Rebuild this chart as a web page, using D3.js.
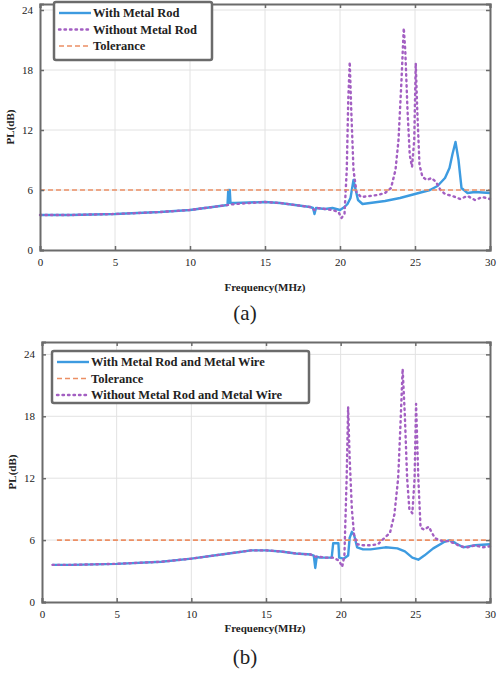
<!DOCTYPE html>
<html>
<head>
<meta charset="utf-8">
<script src="https://cdn.jsdelivr.net/npm/d3@7"></script>
<style>
  body { margin: 0; background: #fff; }
  svg text { font-family: "Liberation Serif", "DejaVu Serif", serif !important; fill: #222; }
</style>
</head>
<body>
<div class="chart"></div>
<script>
// Two panels of path loss vs frequency, (a) and (b)

var xTicks = [0, 5, 10, 15, 20, 25, 30];
var yTicks = [0, 6, 12, 18, 24];

// panel (a)
var freqRodA = [0, 2, 5, 8, 10, 12, 12.5, 12.55, 12.6, 12.65, 12.7, 13, 15, 16, 17, 18, 18.2, 18.3, 18.4, 19, 19.5, 20, 20.3, 20.5, 20.7, 20.9, 21.0, 21.2, 21.5, 22, 23, 24, 25, 26, 26.5, 27, 27.3, 27.5, 27.7, 27.9, 28.1, 28.5, 29, 30];
var withRodA = [3.5, 3.5, 3.6, 3.8, 4.0, 4.4, 4.5, 6.0, 4.7, 6.0, 4.7, 4.7, 4.8, 4.7, 4.5, 4.3, 4.2, 3.6, 4.2, 4.1, 4.2, 4.0, 4.3, 4.6, 5.2, 7.0, 6.3, 5.0, 4.6, 4.7, 4.9, 5.2, 5.6, 6.0, 6.4, 7.2, 8.2, 9.6, 10.8, 9.0, 6.2, 5.7, 5.8, 5.7];

var freqNoRodA = [0, 2, 5, 8, 10, 12, 13, 15, 16, 17, 18, 18.3, 18.5, 19, 19.5, 19.9, 20.1, 20.3, 20.45, 20.55, 20.65, 20.75, 20.9, 21.1, 21.4, 22, 22.5, 23, 23.4, 23.7, 23.9, 24.1, 24.25, 24.35, 24.5, 24.65, 24.8, 24.95, 25.05, 25.15, 25.3, 25.5, 25.8, 26.1, 26.4, 26.7, 27, 27.5, 28, 28.5, 29, 29.5, 30];
var withoutRodA = [3.5, 3.5, 3.6, 3.8, 4.0, 4.4, 4.6, 4.8, 4.7, 4.5, 4.3, 4.0, 4.2, 4.1, 4.0, 3.8, 3.2, 3.6, 8, 15, 18.8, 14, 8, 5.8, 5.3, 5.4, 5.5, 5.7, 6.2, 8.0, 11, 17, 22.2, 20, 14, 9.5, 8.3, 11, 18.7, 14, 8.5, 7.3, 7.0, 7.2, 6.8, 6.0, 5.6, 5.4, 5.1, 5.4, 5.0, 5.3, 5.1];

var tolFreqA = [0, 30];
var tolA = [6, 6];

// panel (b)
var freqRodB = [0.7, 2, 5, 8, 10, 12, 13, 14, 15, 16, 17, 18, 18.2, 18.3, 18.4, 18.6, 19, 19.4, 19.5, 19.85, 19.9, 20.2, 20.5, 20.6, 20.75, 20.9, 21.1, 21.5, 22, 23, 23.8, 24.3, 24.8, 25.2, 25.6, 26.2, 26.9, 27.3, 27.7, 28.2, 29, 30];
var withRodB = [3.6, 3.6, 3.7, 3.9, 4.2, 4.6, 4.8, 5.0, 5.0, 4.9, 4.7, 4.6, 4.5, 3.3, 4.4, 4.3, 4.3, 4.3, 5.7, 5.7, 4.3, 4.2, 4.5, 6.2, 6.8, 6.5, 5.3, 5.1, 5.1, 5.3, 5.2, 4.9, 4.3, 4.1, 4.5, 5.2, 5.8, 6.0, 5.7, 5.3, 5.5, 5.6];

var freqNoRodB = [0.7, 2, 5, 8, 10, 12, 13, 14, 15, 16, 17, 18, 18.3, 18.5, 19, 19.5, 19.9, 20.1, 20.25, 20.4, 20.5, 20.6, 20.75, 20.9, 21.1, 21.5, 22, 22.5, 23, 23.3, 23.6, 23.85, 24.0, 24.15, 24.3, 24.45, 24.6, 24.8, 24.95, 25.05, 25.2, 25.35, 25.6, 25.9, 26.3, 26.8, 27.2, 27.6, 28, 28.5, 29, 29.5, 30];
var withoutRodB = [3.6, 3.6, 3.7, 3.9, 4.2, 4.6, 4.8, 5.0, 5.0, 4.9, 4.7, 4.6, 4.4, 4.4, 4.3, 4.3, 4.0, 3.4, 4.5, 12, 18.9, 14, 9, 6.5, 5.6, 5.5, 5.5, 5.6, 6.3, 6.7, 8.5, 12, 17, 22.6, 18, 12, 9, 8.6, 12, 19.2, 12, 7.2, 7.0, 7.3, 6.2, 5.9, 5.9, 5.7, 5.4, 5.3, 5.5, 5.3, 5.4];

var tolFreqB = [1, 30];
var tolB = [6, 6];

var blue = "#3d9be0";
var purple = "#a35fc2";
var orange = "#ec8f64";

var styles = {
    solid: { color: blue, width: 2.4, dash: null, cap: "butt" },
    dotted: { color: purple, width: 2.4, dash: "1.5,4", cap: "round" },
    dashed: { color: orange, width: 1.6, dash: "5,3", cap: "butt" }
};

var svg = d3.select(".chart")
    .append("svg")
    .attr("width", 500)
    .attr("height", 673);

function drawPanel(p) {
    var x = d3.scaleLinear().domain([0, 30]).range([p.left, p.right]);
    var y = d3.scaleLinear().domain([0, p.yMax]).range([p.bottom, p.top]);

    var g = svg.append("g");

    // grid
    g.selectAll(".vgrid").data(xTicks.slice(1, -1)).enter().append("line")
        .attr("x1", d => x(d)).attr("x2", d => x(d))
        .attr("y1", p.top).attr("y2", p.bottom)
        .attr("stroke", "#e2e2e2").attr("stroke-width", 1);
    g.selectAll(".hgrid").data(yTicks.slice(1)).enter().append("line")
        .attr("x1", p.left).attr("x2", p.right)
        .attr("y1", d => y(d)).attr("y2", d => y(d))
        .attr("stroke", "#e2e2e2").attr("stroke-width", 1);

    // series
    var line = d3.line().x(d => x(d[0])).y(d => y(d[1]));
    p.series.forEach(function(s) {
        var st = styles[s.style];
        var pts = s.f.map(function(f, i) { return [f, s.v[i]]; });
        g.append("path")
            .datum(pts)
            .attr("d", line)
            .attr("fill", "none")
            .attr("stroke", st.color)
            .attr("stroke-width", st.width)
            .attr("stroke-dasharray", st.dash)
            .attr("stroke-linecap", st.cap)
            .attr("stroke-linejoin", "round");
    });

    // axes, ticks inside, box on
    var bottomAxis = d3.axisBottom(x).tickValues(xTicks).tickSize(-4).tickPadding(8).tickFormat(d3.format("d"));
    var leftAxis = d3.axisLeft(y).tickValues(yTicks).tickSize(-4).tickPadding(7).tickFormat(d3.format("d"));
    var topAxis = d3.axisTop(x).tickValues(xTicks).tickSize(-4).tickFormat("");
    var rightAxis = d3.axisRight(y).tickValues(yTicks).tickSize(-4).tickFormat("");

    var axes = [
        g.append("g").attr("transform", "translate(0," + p.bottom + ")").call(bottomAxis),
        g.append("g").attr("transform", "translate(" + p.left + ",0)").call(leftAxis),
        g.append("g").attr("transform", "translate(0," + p.top + ")").call(topAxis),
        g.append("g").attr("transform", "translate(" + p.right + ",0)").call(rightAxis)
    ];
    axes.forEach(function(a) {
        a.attr("font-family", null);
        a.select(".domain").attr("stroke", "#6b6b6b").attr("stroke-width", 2);
        a.selectAll(".tick line").attr("stroke", "#6b6b6b").attr("stroke-width", 1.5);
        a.selectAll("text").attr("font-size", "11px").attr("fill", "#333");
    });

    // axis labels
    g.append("text")
        .attr("transform", "translate(" + (p.left - 26) + "," + ((p.top + p.bottom) / 2) + ") rotate(-90)")
        .attr("text-anchor", "middle")
        .attr("font-size", "11px")
        .attr("font-weight", "bold")
        .text("PL(dB)");

    g.append("text")
        .attr("x", 265)
        .attr("y", p.bottom + p.xLabelDy)
        .attr("text-anchor", "middle")
        .attr("font-size", "11px")
        .attr("font-weight", "bold")
        .text("Frequency(MHz)");

    g.append("text")
        .attr("x", 245)
        .attr("y", p.bottom + p.captionDy)
        .attr("text-anchor", "middle")
        .attr("font-size", "21px")
        .text(p.caption);

    // legend
    var lg = g.append("g").attr("transform", "translate(" + p.legend.x + "," + p.legend.y + ")");
    lg.append("rect")
        .attr("width", p.legend.w)
        .attr("height", p.legend.h)
        .attr("fill", "#fff")
        .attr("stroke", "#6b6b6b")
        .attr("stroke-width", 2.5)
        .attr("rx", 2);
    p.series.forEach(function(s, i) {
        var st = styles[s.style];
        var yy = 11 + i * 16.5;
        lg.append("line")
            .attr("x1", 5).attr("x2", 37)
            .attr("y1", yy).attr("y2", yy)
            .attr("stroke", st.color)
            .attr("stroke-width", st.width)
            .attr("stroke-dasharray", st.dash)
            .attr("stroke-linecap", st.cap);
        lg.append("text")
            .attr("x", 39)
            .attr("y", yy + 4)
            .attr("font-size", "12.5px")
            .attr("font-weight", "bold")
            .attr("fill", "#223")
            .text(s.name);
    });
}

drawPanel({
    left: 40, right: 490, top: 4, bottom: 250, yMax: 24.6, caption: "(a)",
    xLabelDy: 41, captionDy: 70,
    legend: { x: 54, y: 2, w: 158, h: 58 },
    series: [
        { name: "With Metal Rod", style: "solid", f: freqRodA, v: withRodA },
        { name: "Without Metal Rod", style: "dotted", f: freqNoRodA, v: withoutRodA },
        { name: "Tolerance", style: "dashed", f: tolFreqA, v: tolA }
    ]
});

drawPanel({
    left: 42, right: 490, top: 342, bottom: 602, yMax: 25.2, caption: "(b)",
    xLabelDy: 30, captionDy: 62,
    legend: { x: 52, y: 351, w: 257, h: 52 },
    series: [
        { name: "With Metal Rod and Metal Wire", style: "solid", f: freqRodB, v: withRodB },
        { name: "Tolerance", style: "dashed", f: tolFreqB, v: tolB },
        { name: "Without Metal Rod and Metal Wire", style: "dotted", f: freqNoRodB, v: withoutRodB }
    ]
});
</script>
</body>
</html>
